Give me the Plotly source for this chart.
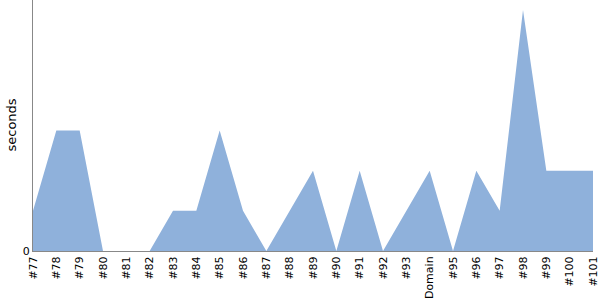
import plotly.graph_objects as go

labels = ["#77", "#78", "#79", "#80", "#81", "#82", "#83", "#84", "#85", "#86", "#87", "#88",
          "#89", "#90", "#91", "#92", "#93", "Domain", "#95", "#96", "#97", "#98", "#99", "#100", "#101"]
values = [1, 3, 3, 0, 0, 0, 1, 1, 3, 1, 0, 1, 2, 0, 2, 0, 1, 2, 0, 2, 1, 6, 2, 2, 2]
y_title = "seconds"

x = list(range(len(labels)))

fig = go.Figure()
fig.add_trace(go.Scatter(x=x, y=values, mode="lines", fill="tozeroy",
                         line=dict(width=0, color="#8fb1db"),
                         fillcolor="#8fb1db", hoverinfo="skip"))

fig.update_layout(
    width=600, height=300,
    margin=dict(l=33, r=5, t=0, b=49),
    paper_bgcolor="white", plot_bgcolor="white",
    showlegend=False,
    font=dict(family="DejaVu Sans", size=11, color="black"),
    xaxis=dict(range=[0, len(labels) - 1], tickvals=x, ticktext=labels,
               tickangle=-90, showgrid=False, zeroline=False,
               showline=True, linecolor="#888888", linewidth=1,
               ticks="", tickfont=dict(size=11), ticklabeloverflow="allow"),
    yaxis=dict(range=[0, 6.25], tickvals=[0], ticktext=["0"],
               showgrid=False, zeroline=False, showline=True,
               linecolor="#888888", linewidth=1, ticks=""),
    annotations=[dict(text=y_title, xref="paper", yref="paper", x=0, y=0.5,
                      xanchor="center", yanchor="middle", xshift=-22,
                      textangle=-90, showarrow=False, font=dict(size=13))],
)

fig.write_html("out.html")
